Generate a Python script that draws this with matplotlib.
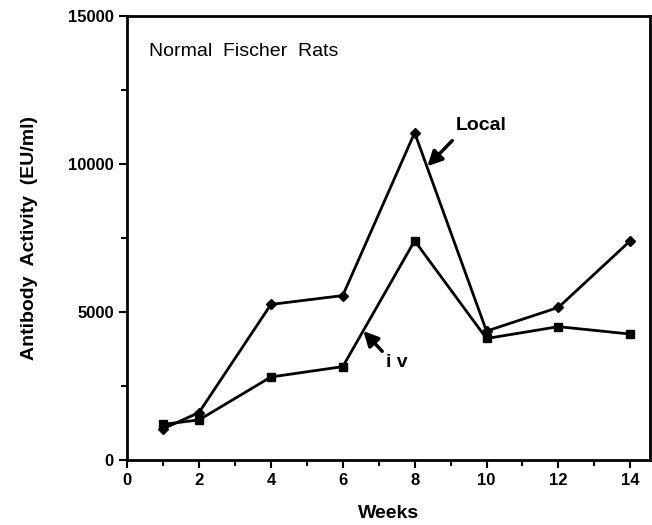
import numpy as np
import matplotlib
matplotlib.use("Agg")
import matplotlib.pyplot as plt
from matplotlib.ticker import MultipleLocator

plt.rcParams['font.family'] = ['Liberation Sans', 'DejaVu Sans']

weeks = [1, 2, 4, 6, 8, 10, 12, 14]
local = [1050, 1600, 5250, 5550, 11050, 4350, 5150, 7400]
iv = [1200, 1350, 2800, 3150, 7400, 4100, 4500, 4250]

fig = plt.figure(figsize=(6.52, 5.25), dpi=100)
ax = fig.add_axes([0.195, 0.124, 0.802, 0.846])

ax.plot(weeks, local, 'k-', marker='D', markersize=5, lw=2)
ax.plot(weeks, iv, 'k-', marker='s', markersize=6, lw=2)

ax.set_xlim(0, 14.55)
ax.set_ylim(0, 15000)
ax.xaxis.set_major_locator(MultipleLocator(2))
ax.xaxis.set_minor_locator(MultipleLocator(1))
ax.yaxis.set_major_locator(MultipleLocator(5000))
ax.yaxis.set_minor_locator(MultipleLocator(2500))
ax.tick_params(which='both', direction='out', width=1.5, top=False, right=False)
ax.tick_params(which='major', length=6, labelsize=12)
ax.tick_params(which='minor', length=4)
for lab in ax.get_xticklabels() + ax.get_yticklabels():
    lab.set_fontweight('bold')
for sp in ax.spines.values():
    sp.set_linewidth(2)

ax.set_xlabel('Weeks', fontsize=14, fontweight='bold', labelpad=12)
ax.set_ylabel('Antibody  Activity  (EU/ml)', fontsize=14, fontweight='bold', labelpad=22)

ax.text(0.6, 13800, 'Normal  Fischer  Rats', fontsize=14, va='center')
ax.text(9.15, 11300, 'Local', fontsize=14, fontweight='bold', va='center')
ax.annotate('', xy=(8.3, 9850), xytext=(9.1, 10850),
            arrowprops=dict(arrowstyle='-|>', color='k', lw=2.5, mutation_scale=22))
ax.text(7.2, 3300, 'i v', fontsize=14, fontweight='bold', va='center')
ax.annotate('', xy=(6.52, 4420), xytext=(7.15, 3600),
            arrowprops=dict(arrowstyle='-|>', color='k', lw=2.5, mutation_scale=22))

fig.savefig('out.png', dpi=100)
